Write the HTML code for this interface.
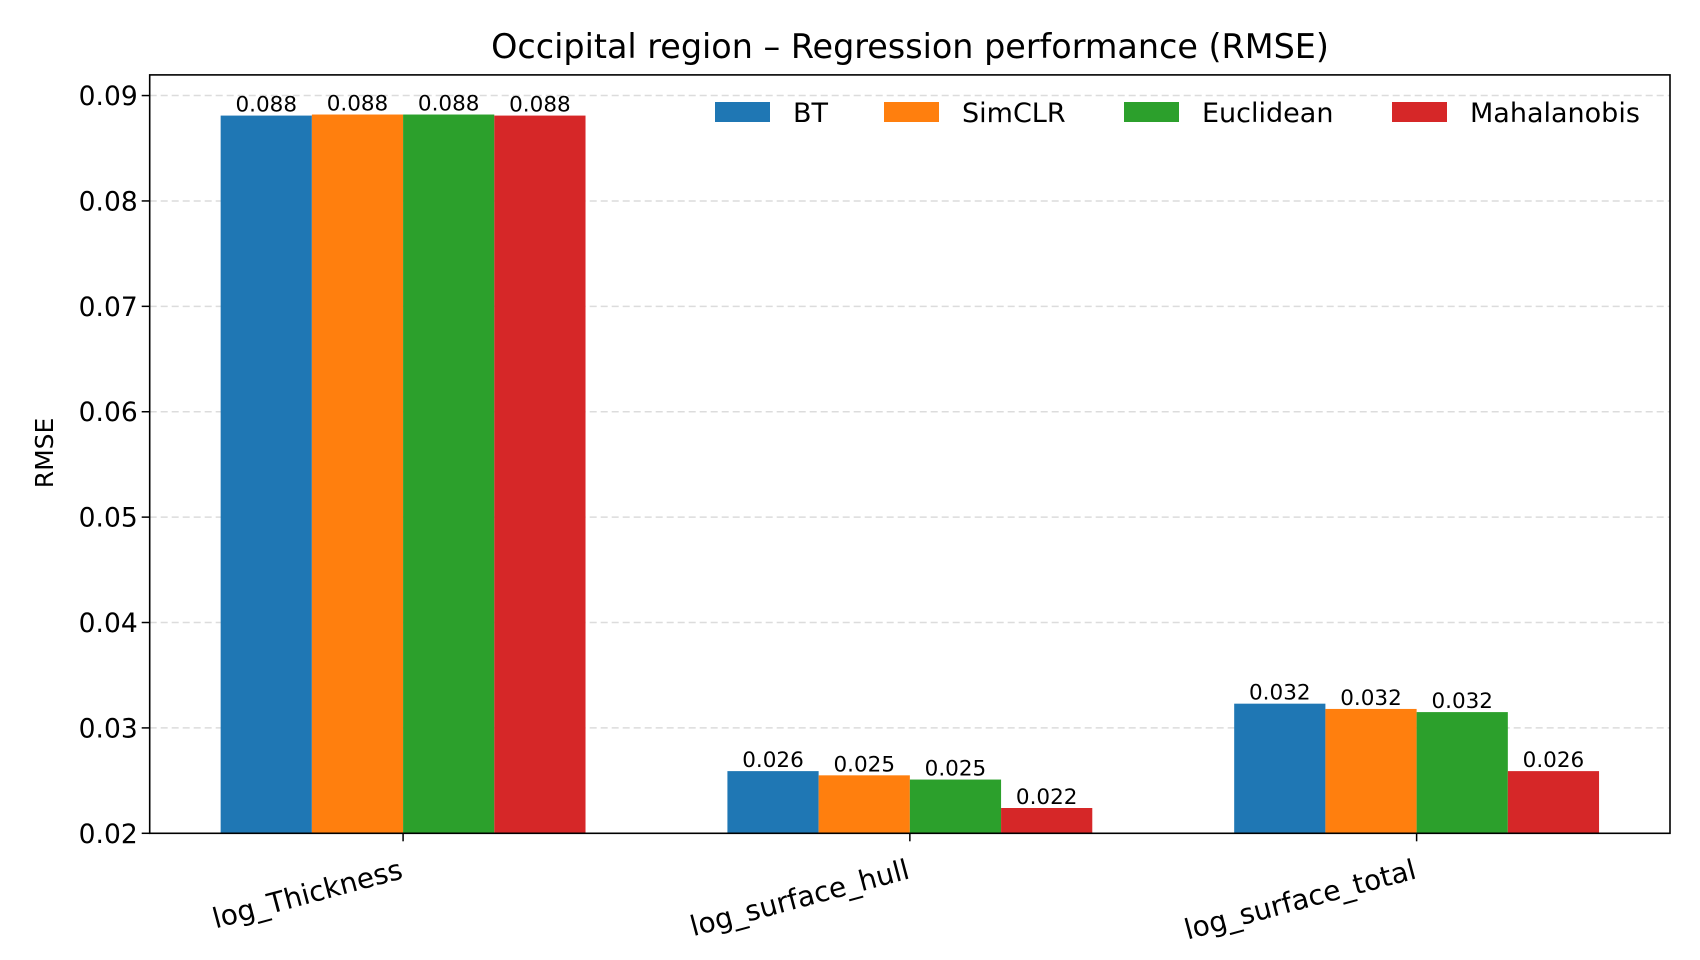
<!DOCTYPE html>
<html><head><meta charset="utf-8"><style>
html,body{margin:0;padding:0;background:#fff;}
svg{display:block;font-family:"DejaVu Sans","Liberation Sans",sans-serif;}
</style></head><body>
<svg id="chart" width="1700" height="960" viewBox="0 0 1700 960">
<rect x="0" y="0" width="1700" height="960" fill="#fff"/>
<g id="grid"></g>
<g id="bars"></g>
<g id="labels"></g>
<g id="axes"></g>
<text x="910" y="58" font-size="33.4" text-anchor="middle">Occipital region – Regression performance (RMSE)</text>
<text transform="translate(53,453) rotate(-90)" font-size="25" text-anchor="middle">RMSE</text>
<g id="legend"></g>
</svg>
<script>
const categories = ["log_Thickness","log_surface_hull","log_surface_total"];
const seriesNames = ["BT","SimCLR","Euclidean","Mahalanobis"];
const bt = [0.0881,0.0259,0.0323];
const simclr = [0.0882,0.0255,0.0318];
const euclidean = [0.0882,0.0251,0.0315];
const mahalanobis = [0.0881,0.0224,0.0259];
const yTicks = [0.02,0.03,0.04,0.05,0.06,0.07,0.08,0.09];
const yTickLabels = ["0.02","0.03","0.04","0.05","0.06","0.07","0.08","0.09"];

const series = [bt, simclr, euclidean, mahalanobis];
const colors = ["#1f77b4","#ff7f0e","#2ca02c","#d62728"];
const NS = "http://www.w3.org/2000/svg";
const L = 149.7, R = 1670, T = 74.9, B = 833.3;
const yMin = 0.02, yMax = 0.09196;
const xMin = -0.5, xMax = 2.5;
const barW = 0.18;
function y(v){ return B - (v - yMin) / (yMax - yMin) * (B - T); }
function x(v){ return L + (v - xMin) / (xMax - xMin) * (R - L); }
function mk(tag, attrs, parent){ const e = document.createElementNS(NS, tag); for (const k in attrs) e.setAttribute(k, attrs[k]); parent.appendChild(e); return e; }

const grid = document.getElementById('grid');
const axes = document.getElementById('axes');
yTicks.forEach((t, i) => {
  const g = mk('line', {x1:L, x2:R, y1:y(t), y2:y(t), stroke:'#dcdcdc', 'stroke-width':1.5, 'stroke-dasharray':'7,4'}, grid);
  
  
  const tk = mk('line', {x1:L-8, x2:L, y1:y(t), y2:y(t), stroke:'#000', 'stroke-width':1.5}, axes);
  
  
  const tl = mk('text', {x:L-12, y:y(t)+9.5, 'font-size':26.5, 'text-anchor':'end'}, axes);
  tl.textContent = yTickLabels[i];
  
  
});

const barsG = document.getElementById('bars');
const labelsG = document.getElementById('labels');
categories.forEach((c, ci) => {
  series.forEach((s, si) => {
    const cx = ci + (si - 1.5) * barW;
    const x0 = x(cx - barW/2), x1 = x(cx + barW/2);
    const r = mk('rect', {x:x0, y:y(s[ci]), width:x1-x0, height:B-y(s[ci]), fill:colors[si]}, barsG);
    
    
    const t = mk('text', {x:x(cx), y:y(s[ci])-4, 'font-size':21.5, 'text-anchor':'middle'}, labelsG);
    t.textContent = s[ci].toFixed(3);
    
    
  });
  const tk = mk('line', {x1:x(ci), x2:x(ci), y1:B, y2:B+8, stroke:'#000', 'stroke-width':1.5}, axes);
  
  
  const tl = mk('text', {transform:'translate(' + (x(ci)+1) + ',878) rotate(-15)', 'font-size':28, 'text-anchor':'end'}, axes);
  tl.textContent = c;
  
  
});
const frame = mk('rect', {x:L, y:T, width:R-L, height:B-T, fill:'none', stroke:'#000', 'stroke-width':1.6}, axes);



const legend = document.getElementById('legend');
const patchX = [715, 884, 1124, 1392];
seriesNames.forEach((n, i) => {
  const p = mk('rect', {x:patchX[i], y:102, width:55, height:20, fill:colors[i]}, legend);
  
  
  const t = mk('text', {x:patchX[i]+78, y:122, 'font-size':27}, legend);
  t.textContent = n;
  
  
});
</script>
</body></html>
